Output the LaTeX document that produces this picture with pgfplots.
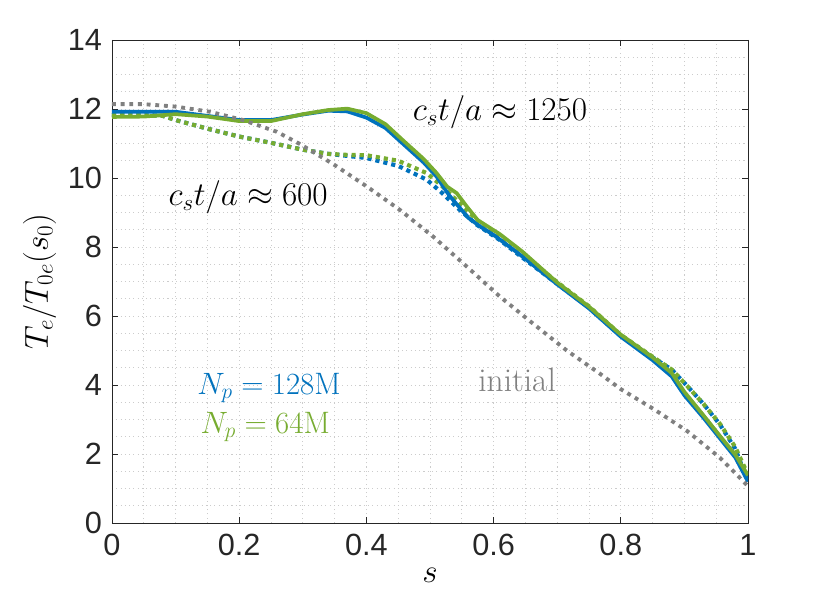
\documentclass[border=0pt]{standalone}
\usepackage{fontspec}
\usepackage{pgfplots}
\pgfplotsset{compat=1.18}
\newfontfamily\helv{Liberation Sans}
\definecolor{mblue}{rgb}{0,0.447,0.741}
\definecolor{mgreen}{rgb}{0.466,0.674,0.188}
\definecolor{mgray}{rgb}{0.5,0.5,0.5}
\definecolor{axc}{rgb}{0.15,0.15,0.15}
\begin{document}
\begin{tikzpicture}
\begin{axis}[
  scale only axis, width=477pt, height=362.25pt,
  xmin=0, xmax=1, ymin=0, ymax=14,
  xtick={0,0.2,...,1}, ytick={0,2,...,14},
  minor x tick num=3, minor y tick num=3,
  grid=both,
  major grid style={gray!40, line width=0.6pt, dash pattern=on 0.8pt off 2.4pt},
  minor grid style={gray!40, line width=0.6pt, dash pattern=on 0.8pt off 2.4pt},
  tick align=inside, major tick length=4.5pt, minor tick length=0pt,
  axis line style={axc, line width=0.6pt},
  every tick/.style={axc, line width=0.6pt},
  /pgf/number format/assume math mode=true,
  ticklabel style={font=\helv\fontsize{23}{27}\selectfont, text=axc},
  xticklabel style={yshift=-5pt},
  yticklabel style={xshift=-4pt},
  xlabel={$s$}, ylabel={$T_e/T_{0e}(s_0)$},
  label style={font=\fontsize{25}{30}\selectfont},
  xlabel style={yshift=-2pt},
  ylabel style={yshift=2pt},
]
% dotted blue: c_s t/a ~ 600, Np=128M
\addplot[mblue, line width=3.1pt, dash pattern=on 3.1pt off 3pt] coordinates {
(0,11.82)(0.05,11.82)(0.08,11.80)(0.10,11.68)(0.15,11.43)(0.20,11.20)(0.25,11.02)(0.30,10.82)(0.34,10.70)(0.37,10.64)(0.40,10.58)(0.45,10.35)(0.495,9.95)(0.52,9.55)(0.547,9.07)(0.574,8.64)(0.61,8.20)(0.642,7.74)(0.70,6.93)(0.75,6.24)(0.80,5.42)(0.85,4.80)(0.88,4.45)(0.904,3.98)(0.93,3.45)(0.956,2.85)(0.98,2.15)(1.0,1.20)};
% dotted green: c_s t/a ~ 600, Np=64M
\addplot[mgreen, line width=3.1pt, dash pattern=on 3.1pt off 3pt] coordinates {
(0,11.82)(0.05,11.82)(0.08,11.80)(0.10,11.68)(0.15,11.43)(0.20,11.20)(0.25,11.02)(0.30,10.82)(0.34,10.70)(0.37,10.67)(0.40,10.66)(0.45,10.50)(0.495,10.14)(0.52,9.75)(0.547,9.26)(0.574,8.78)(0.61,8.30)(0.642,7.86)(0.70,6.98)(0.75,6.28)(0.80,5.45)(0.85,4.82)(0.88,4.45)(0.904,3.98)(0.93,3.45)(0.956,2.87)(0.98,2.20)(1.0,1.40)};
% solid blue: c_s t/a ~ 1250, Np=128M
\addplot[mblue, line width=2.8pt] coordinates {
(0,11.92)(0.05,11.92)(0.10,11.92)(0.15,11.80)(0.20,11.68)(0.25,11.68)(0.30,11.84)(0.34,11.95)(0.37,11.93)(0.40,11.75)(0.43,11.45)(0.46,10.95)(0.49,10.45)(0.51,10.05)(0.53,9.50)(0.56,8.85)(0.58,8.58)(0.60,8.35)(0.64,7.80)(0.70,6.92)(0.75,6.22)(0.80,5.40)(0.85,4.72)(0.88,4.25)(0.90,3.70)(0.93,3.05)(0.956,2.45)(0.98,1.90)(1.0,1.20)};
% solid green: c_s t/a ~ 1250, Np=64M
\addplot[mgreen, line width=2.8pt] coordinates {
(0,11.77)(0.05,11.78)(0.10,11.85)(0.15,11.78)(0.20,11.65)(0.25,11.65)(0.30,11.85)(0.34,11.97)(0.37,12.01)(0.40,11.88)(0.43,11.56)(0.46,11.05)(0.49,10.55)(0.51,10.15)(0.527,9.75)(0.542,9.56)(0.558,9.17)(0.575,8.78)(0.61,8.37)(0.645,7.87)(0.70,6.97)(0.75,6.27)(0.80,5.46)(0.85,4.80)(0.88,4.35)(0.90,3.80)(0.93,3.12)(0.956,2.52)(0.98,1.98)(1.0,1.38)};
% initial
\addplot[mgray, line width=2.9pt, dash pattern=on 2.9pt off 3.6pt] coordinates {
(0,12.14)(0.05,12.14)(0.10,12.07)(0.154,11.92)(0.206,11.68)(0.259,11.34)(0.296,10.98)(0.348,10.40)(0.401,9.75)(0.453,9.07)(0.505,8.30)(0.558,7.43)(0.61,6.56)(0.662,5.78)(0.715,5.00)(0.767,4.33)(0.80,3.88)(0.851,3.31)(0.904,2.67)(0.956,1.89)(1.0,1.07)};
\node[font=\fontsize{25}{30}\selectfont] at (axis cs:0.61,11.9) {$c_st/a\approx 1250$};
\node[font=\fontsize{25}{30}\selectfont] at (axis cs:0.214,9.45) {$c_st/a\approx 600$};
\node[font=\fontsize{25}{30}\selectfont, text=mgray] at (axis cs:0.637,4.14) {initial};
\node[font=\fontsize{25}{30}\selectfont, text=mblue, scale=0.93] at (axis cs:0.247,3.91) {$N_p=128\mathrm{M}$};
\node[font=\fontsize{25}{30}\selectfont, text=mgreen, scale=0.93] at (axis cs:0.241,2.78) {$N_p=64\mathrm{M}$};
\end{axis}
\pgfresetboundingbox
\path ([shift={(-84pt,-65.25pt)}]current axis.south west) rectangle ([shift={(61.5pt,30pt)}]current axis.north east);
\end{tikzpicture}
\end{document}
